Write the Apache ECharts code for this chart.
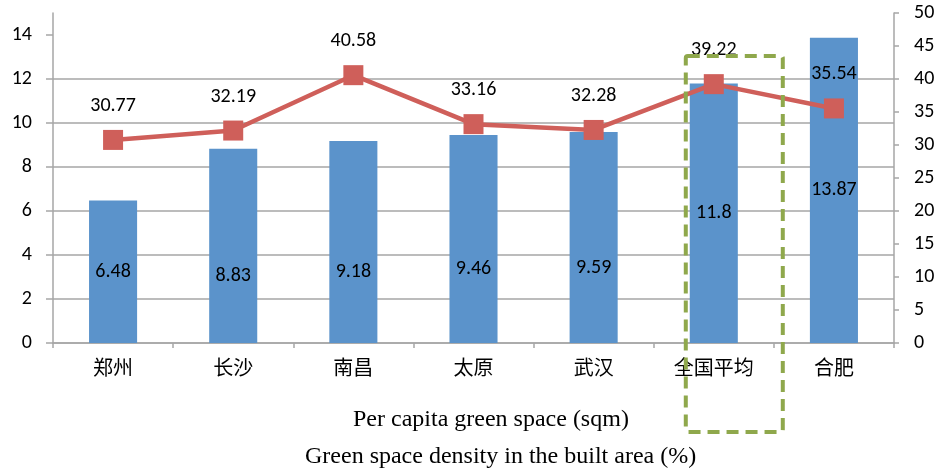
<!DOCTYPE html>
<html>
<head>
<meta charset="utf-8">
<script src="https://cdn.jsdelivr.net/npm/echarts@6/dist/echarts.min.js"></script>
<style>html,body{margin:0;padding:0;background:#fff;}#c{width:940px;height:476px;}</style>
</head>
<body>
<div id="c"></div>
<script>
const categories = ['郑州', '长沙', '南昌', '太原', '武汉', '全国平均', '合肥'];
const perCapitaGreen = [6.48, 8.83, 9.18, 9.46, 9.59, 11.8, 13.87];
const greenDensity = [30.77, 32.19, 40.58, 33.16, 32.28, 39.22, 35.54];
const leftTicks = [0, 2, 4, 6, 8, 10, 12, 14];
const rightTicks = [0, 5, 10, 15, 20, 25, 30, 35, 40, 45, 50];
const barName = 'Per capita green space (sqm)';
const lineName = 'Green space density in the built area (%)';

// style-only: vertical shift of some bar labels as in the reference
const barLabelShift = [0, 30, 30, 30, 30, 0, 0];

const numFont = 'Carlito, Lato, sans-serif';
const axisGray = '#A6A6A6';

const chart = echarts.init(document.getElementById('c'), null, {renderer: 'canvas'});
const option = {
  animation: false,
  backgroundColor: '#fff',
  grid: {left: 53, right: 46, top: 13, bottom: 133, containLabel: false},
  legend: [
    {data: [barName], icon: 'none', itemWidth: 0, itemHeight: 24, left: 343, top: 403,
     textStyle: {fontFamily: '"Liberation Serif", serif', fontSize: 24, color: '#000'}},
    {data: [lineName], icon: 'none', itemWidth: 0, itemHeight: 24, left: 295, top: 440,
     textStyle: {fontFamily: '"Liberation Serif", serif', fontSize: 24, color: '#000'}}
  ],
  xAxis: {
    type: 'category', data: categories, boundaryGap: true,
    axisLine: {lineStyle: {color: axisGray, width: 1.5}},
    axisTick: {show: true, length: 5, inside: false, lineStyle: {color: axisGray, width: 1.5}},
    axisLabel: {fontFamily: '"Noto Sans CJK SC", sans-serif', fontSize: 20, color: '#000', margin: 14}
  },
  yAxis: [
    {
      type: 'value', min: 0, max: 15, interval: 2, position: 'left',
      axisLine: {show: true, lineStyle: {color: axisGray, width: 1.5}},
      axisTick: {show: true, length: 7, lineStyle: {color: axisGray, width: 1.5}, customValues: leftTicks},
      axisLabel: {fontFamily: numFont, fontSize: 20, color: '#000', margin: 21, customValues: leftTicks},
      splitLine: {show: true, showMaxLine: false, lineStyle: {color: axisGray, width: 1.5}}
    },
    {
      type: 'value', min: 0, max: 50, interval: 5, position: 'right',
      axisLine: {show: true, lineStyle: {color: axisGray, width: 1.5}},
      axisTick: {show: true, length: 5, lineStyle: {color: axisGray, width: 1.5}, customValues: rightTicks},
      axisLabel: {fontFamily: numFont, fontSize: 20, color: '#000', margin: 20, customValues: rightTicks},
      splitLine: {show: false}
    }
  ],
  series: [
    {
      name: barName, type: 'bar', yAxisIndex: 0, barWidth: '40%',
      itemStyle: {color: '#5B93CB'},
      data: perCapitaGreen.map((v, i) => ({
        value: v,
        label: {offset: [0, barLabelShift[i]]}
      })),
      label: {show: true, position: 'inside', fontFamily: numFont, fontSize: 20, color: '#000'},
      z: 2
    },
    {
      name: lineName, type: 'line', yAxisIndex: 1,
      data: greenDensity,
      symbol: 'rect', symbolSize: 20,
      lineStyle: {color: '#CF5F5A', width: 4.5},
      itemStyle: {color: '#CF5F5A'},
      label: {show: true, position: 'top', distance: 14, fontFamily: numFont, fontSize: 20, color: '#000'},
      z: 3
    }
  ]
};
chart.setOption(option);

// annotation: dashed highlight box around the national average category
const cx = chart.convertToPixel({xAxisIndex: 0}, 5);
const topY = chart.convertToPixel({yAxisIndex: 1}, 43.5);
chart.setOption({
  graphic: [{
    type: 'rect', z: 10,
    shape: {x: cx - 28, y: topY, width: 97, height: 432 - topY, r: 2},
    style: {fill: 'none', stroke: '#8FA84C', lineWidth: 4, lineDash: [12, 7]}
  }]
});
</script>
</body>
</html>
